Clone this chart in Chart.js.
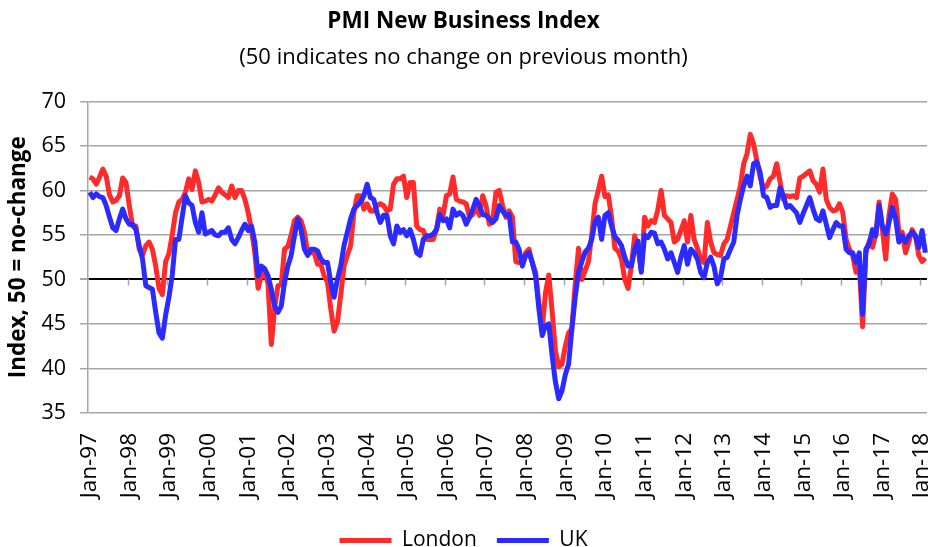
<!DOCTYPE html>
<html>
<head>
<meta charset="utf-8">
<script src="https://cdn.jsdelivr.net/npm/chart.js@4.4.1/dist/chart.umd.min.js"></script>
<style>
  html, body { margin: 0; padding: 0; background: #fff; }
  #wrap { width: 928px; height: 547px; }
</style>
</head>
<body>
<div id="wrap"><canvas id="pmiChart" width="928" height="547"></canvas></div>
<script>
// Monthly, Jan-97 .. Feb-18
const monthNames = ['Jan', 'Feb', 'Mar', 'Apr', 'May', 'Jun', 'Jul', 'Aug', 'Sep', 'Oct', 'Nov', 'Dec'];
const yearLabels = ['97', '98', '99', '00', '01', '02', '03', '04', '05', '06', '07',
                    '08', '09', '10', '11', '12', '13', '14', '15', '16', '17', '18'];

const london = [
  61.5, 61.3, 60.7, 61.5, 62.4, 61.6, 59.5, 58.7, 58.9, 59.4, 61.4, 60.9,
  58.3, 56.0, 56.0, 53.4, 52.7, 53.8, 54.2, 53.4, 51.5, 49.0, 48.3, 52.0,
  52.9, 55.0, 57.5, 58.7, 59.0, 59.8, 61.3, 60.1, 62.2, 60.9, 58.7, 58.8,
  59.0, 58.8, 59.5, 60.3, 59.8, 59.5, 59.2, 60.5, 59.2, 60.0, 60.0, 59.0,
  57.5, 55.5, 53.0, 49.0, 50.5, 51.0, 49.5, 42.7, 46.8, 49.3, 49.4, 53.4,
  53.7, 55.0, 56.6, 57.0, 56.6, 55.3, 53.0, 53.0, 53.0, 51.7, 51.7, 50.4,
  49.7, 46.7, 44.2, 45.2, 48.2, 51.5, 52.7, 53.8, 57.5, 59.4, 59.4, 57.9,
  58.5, 57.7, 57.7, 58.3, 58.5, 58.3, 57.7, 57.9, 60.7, 61.3, 61.3, 61.6,
  59.2, 60.9, 60.9, 56.0, 55.6, 55.5, 54.5, 54.5, 54.5, 55.6, 57.9, 57.2,
  59.4, 59.6, 61.5, 59.0, 58.8, 58.7, 58.5, 57.0, 57.3, 58.1, 57.2, 59.4,
  58.3, 56.2, 56.6, 59.8, 60.0, 58.3, 57.0, 57.7, 57.0, 52.0, 51.9, 51.9,
  53.0, 53.4, 51.9, 50.8, 47.4, 44.4, 48.5, 50.5, 46.5, 42.0, 40.2, 40.5,
  42.5, 44.0, 44.5, 49.5, 53.5, 50.0, 51.0, 52.0, 55.0, 58.5, 60.0, 61.6,
  59.3, 59.5, 57.0, 53.5, 53.2, 52.3, 50.0, 49.0, 51.5, 54.9, 53.5, 51.0,
  57.0, 56.0, 56.6, 56.4, 57.8, 60.0, 57.2, 56.8, 56.4, 54.2, 54.5, 55.5,
  56.6, 54.2, 57.2, 54.5, 53.5, 52.2, 51.9, 56.4, 54.2, 53.0, 52.8, 52.7,
  54.0, 54.5, 56.0, 57.5, 59.0, 60.5, 63.0, 64.1, 66.3, 65.2, 63.3, 61.5,
  60.2, 60.5, 61.3, 61.6, 63.0, 61.0, 59.0, 59.4, 59.3, 59.4, 59.2, 61.4,
  61.6, 61.9, 62.2, 61.1, 60.7, 59.8, 62.4, 59.0, 58.1, 57.7, 57.8, 58.5,
  57.5, 54.5, 53.4, 52.7, 50.8, 51.5, 44.7, 53.0, 54.3, 53.6, 55.1, 58.7,
  55.6, 52.3, 57.2, 59.6, 59.0, 55.3, 55.3, 53.0, 54.2, 55.6, 54.9, 52.7,
  52.0, 52.4
];

const uk = [
  59.8, 59.2, 59.6, 59.3, 59.2, 58.3, 57.0, 55.8, 55.5, 56.8, 57.9, 56.8,
  56.2, 56.2, 55.6, 53.8, 52.3, 49.3, 49.1, 48.9, 46.3, 44.0, 43.4, 46.0,
  48.0, 50.5, 54.5, 54.5, 57.0, 59.4, 58.6, 58.3, 56.4, 55.3, 57.5, 55.1,
  55.3, 55.5, 55.0, 54.9, 55.3, 55.3, 55.8, 54.5, 54.0, 54.7, 55.5, 56.2,
  55.5, 56.0, 54.2, 50.4, 51.5, 51.2, 50.4, 48.9, 47.0, 46.3, 47.0, 49.7,
  51.5, 52.7, 54.9, 56.8, 55.6, 53.4, 52.7, 53.4, 53.4, 53.2, 52.3, 51.9,
  51.9, 49.7, 48.0, 50.0, 51.5, 53.8, 55.3, 56.8, 57.9, 58.3, 58.7, 59.4,
  60.7, 59.2, 59.0, 57.5, 56.4, 57.2, 57.2, 54.9, 54.0, 56.0, 55.3, 55.6,
  54.9, 55.6, 54.5, 53.0, 52.7, 54.5, 54.9, 54.9, 55.1, 55.6, 57.3, 56.6,
  56.8, 55.8, 57.9, 57.2, 57.5, 57.2, 56.2, 57.0, 57.9, 59.0, 58.3, 57.3,
  57.2, 56.8, 56.4, 56.8, 58.3, 57.7, 57.2, 57.3, 54.2, 54.2, 53.4, 51.5,
  52.7, 53.0, 51.9, 50.4, 46.7, 43.7, 44.8, 45.0, 41.5, 38.5, 36.6, 37.5,
  39.3, 40.5, 44.5, 48.0, 50.8, 52.0, 53.1, 53.5, 54.5, 56.5, 57.0, 54.5,
  57.2, 57.5, 56.0, 54.8, 54.4, 53.8, 52.5, 51.5, 51.5, 53.4, 54.3, 50.8,
  55.0, 54.7, 55.3, 55.2, 54.0, 54.2, 53.4, 52.3, 53.0, 51.9, 50.8, 52.5,
  53.8, 51.7, 53.4, 53.0, 52.3, 50.8, 50.2, 51.9, 52.5, 51.5, 49.5, 50.2,
  52.3, 52.5, 53.4, 54.2, 57.2, 59.0, 60.5, 61.6, 60.5, 63.0, 63.2, 62.0,
  59.4, 59.2, 58.1, 58.3, 58.3, 60.3, 59.4, 58.1, 58.3, 57.9, 57.5, 56.4,
  57.4, 58.3, 59.2, 57.9, 56.8, 56.6, 57.7, 56.2, 54.7, 55.6, 56.4, 56.0,
  56.0, 53.4, 53.0, 53.0, 51.9, 53.0, 46.1, 53.4, 54.0, 55.6, 54.9, 58.3,
  56.0, 55.1, 56.4, 58.1, 56.8, 54.2, 54.9, 54.2, 54.9, 55.3, 54.9, 53.6,
  55.5, 53.0
];

const yTicks = [35, 40, 45, 50, 55, 60, 65, 70];

// категории вида 'Jan-97'
const categories = [];
yearLabels.forEach(y => monthNames.forEach(m => categories.push(m + '-' + y)));
categories.length = london.length;

const FONT = '"Open Sans", "Noto Sans", sans-serif';
const GRID = '#A6A6A6';

// короткие засечки под линией 50, как в Excel
const axisTicks = {
    id: 'axisTicks',
    beforeDatasetsDraw(chart) {
        const x = chart.scales.x, y = chart.scales.y;
        const ctx = chart.ctx;
        const y50 = y.getPixelForValue(50);
        const half = (x.getPixelForValue(1) - x.getPixelForValue(0)) / 2;
        ctx.save();
        ctx.strokeStyle = GRID;
        ctx.lineWidth = 1.5;
        for (let i = 12; i < categories.length; i += 12) {
            const px = Math.round(x.getPixelForValue(i) - half) + 0.5;
            ctx.beginPath();
            ctx.moveTo(px, y50);
            ctx.lineTo(px, y50 + 6);
            ctx.stroke();
        }
        ctx.restore();
    }
};

const ctx = document.getElementById('pmiChart');
const pmiChart = new Chart(ctx, {
    type: 'line',
    data: {
        labels: categories,
        datasets: [
            {
                label: 'London',
                data: london,
                borderColor: '#FF2A2A',
                backgroundColor: '#FF2A2A',
                borderWidth: 5,
                pointRadius: 0,
                pointStyle: 'line',
                tension: 0,
                borderJoinStyle: 'round',
                order: 2
            },
            {
                label: 'UK',
                data: uk,
                borderColor: '#2B2BFF',
                backgroundColor: '#2B2BFF',
                borderWidth: 5,
                pointRadius: 0,
                pointStyle: 'line',
                tension: 0,
                borderJoinStyle: 'round',
                order: 1
            }
        ]
    },
    options: {
        responsive: false,
        animation: false,
        devicePixelRatio: 1,
        layout: { padding: { left: 0, right: 1, top: 0, bottom: -14 } },
        plugins: {
            title: {
                display: true,
                text: 'PMI New Business Index',
                color: '#000',
                font: { family: FONT, size: 22.5, weight: 'bold' },
                padding: { top: 8, bottom: 2 }
            },
            subtitle: {
                display: true,
                text: '(50 indicates no change on previous month)',
                color: '#000',
                font: { family: FONT, size: 22 },
                padding: { top: 8, bottom: 30 }
            },
            legend: {
                display: true,
                position: 'bottom',
                labels: {
                    usePointStyle: true,
                    pointStyle: 'line',
                    pointStyleWidth: 52,
                    color: '#000',
                    font: { family: FONT, size: 21 },
                    padding: 20,
                    sort: (a, b) => a.datasetIndex - b.datasetIndex
                }
            },
            tooltip: { enabled: false }
        },
        scales: {
            x: {
                offset: true,
                grid: { display: false, drawTicks: false },
                border: { display: false },
                ticks: {
                    autoSkip: false,
                    minRotation: 90,
                    maxRotation: 90,
                    padding: 20,
                    color: '#000',
                    font: { family: FONT, size: 22.5 },
                    callback: function(value, index) {
                        return index % 12 === 0 ? categories[index] : null;
                    }
                },
                afterFit: function(scale) {
                    scale.height = 97;
                    scale.paddingLeft = 0;
                    scale.paddingRight = 0;
                }
            },
            y: {
                min: 35,
                max: 70,
                afterBuildTicks: function(scale) {
                    scale.ticks = yTicks.map(v => ({ value: v }));
                },
                grid: {
                    color: c => (c.tick && c.tick.value === 50 ? '#000' : GRID),
                    lineWidth: c => (c.tick && c.tick.value === 50 ? 2 : 1.5),
                    tickColor: GRID,
                    tickLength: 8
                },
                border: { color: GRID, width: 1.5 },
                ticks: {
                    padding: 14,
                    color: '#000',
                    font: { family: FONT, size: 21.5 }
                },
                title: {
                    display: true,
                    text: 'Index, 50 = no-change',
                    color: '#000',
                    font: { family: FONT, size: 22.5, weight: 'bold' },
                    padding: { top: 5, bottom: 0 }
                },
                afterFit: function(scale) { scale.width = 88; }
            }
        }
    },
    plugins: [axisTicks]
});
</script>
</body>
</html>
